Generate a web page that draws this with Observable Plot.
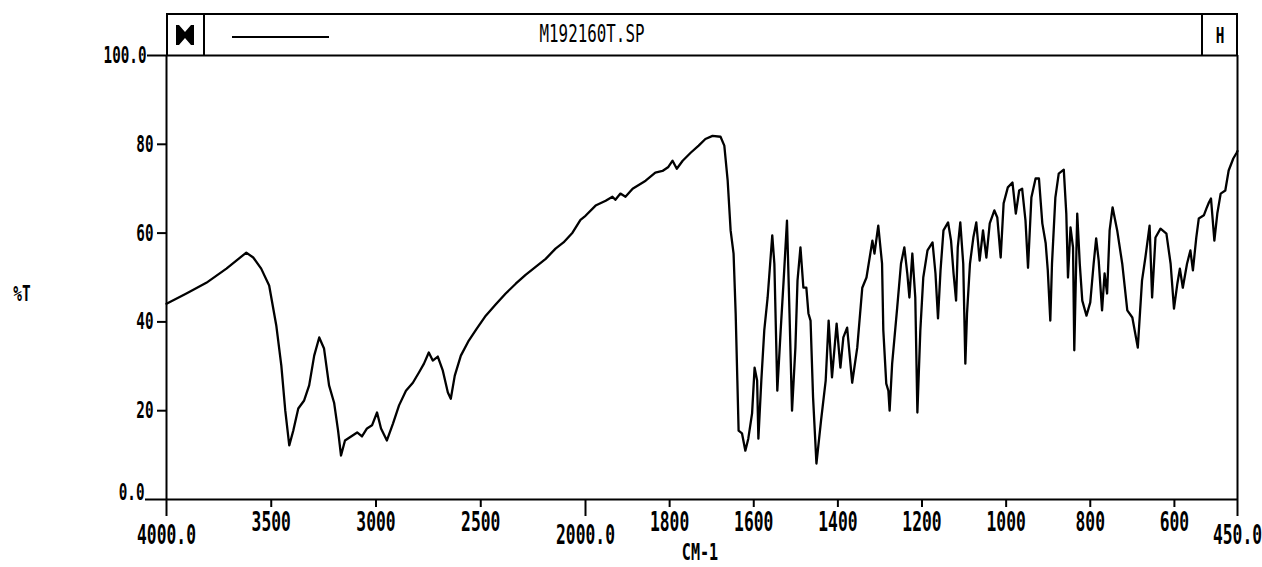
<!DOCTYPE html>
<html>
<head>
<meta charset="utf-8">
<script src="https://cdn.jsdelivr.net/npm/d3@7"></script>
<script src="https://cdn.jsdelivr.net/npm/@observablehq/plot@0.6"></script>
<style>
  body { margin: 0; background: #fff; }
  #fig { position: relative; width: 1262px; height: 567px; font-family: "DejaVu Sans Mono", monospace; color: #000; }
  #fig > svg { position: absolute; left: 0; top: 0; }
  .hdr { position: absolute; left: 166px; top: 13px; width: 1072px; height: 42px; box-sizing: border-box;
         border-top: 2.5px solid #000; border-left: 2px solid #000; border-right: 2px solid #000; }
  .cell-l { position: absolute; left: 0; top: 0; width: 37px; height: 100%; border-right: 2px solid #000; box-sizing: border-box; }
  .cell-l svg { position: absolute; left: 7px; top: 9px; }
  .cell-r { position: absolute; right: 0; top: 0; width: 35px; height: 100%; border-left: 2px solid #000; box-sizing: border-box; }
  .swatch { position: absolute; left: 64px; top: 21px; width: 97px; height: 2px; background: #000; }
  .lbl { position: absolute; white-space: nowrap; font-weight: bold; line-height: 1; transform: translate(-50%, -50%) scale(0.72, 1.1); }
</style>
</head>
<body>
<div id="fig">
  <div class="hdr">
    <div class="cell-l">
      <svg width="20" height="22" viewBox="0 0 20 22"><path d="M1,1 L4,1 L10,8 L16,1 L19,1 L19,21 L16,21 L10,14 L4,21 L1,21 Z" fill="#000"/></svg>
    </div>
    <div class="swatch"></div>
    <div class="cell-r"></div>
  </div>
  <span class="lbl" id="title" style="left:592px; top:34px; font-size:22px; font-weight:normal;"></span>
  <span class="lbl" id="hmark" style="left:1220px; top:35px; font-size:20px;"></span>
  <span class="lbl" id="ylabel" style="left:22px; top:293px; font-size:20px;"></span>
  <span class="lbl" id="xlabel" style="left:700px; top:553px; font-size:21px;"></span>
</div>
<script>
// Infrared spectrum: wavenumber (cm-1) vs. transmittance (%T)
const wavenumber = [
  4000, 3905, 3810, 3714, 3643, 3619, 3586, 3548, 3510, 3476, 3452, 3433, 3414, 3395, 3371, 3343,
  3319, 3295, 3271, 3248, 3224, 3200, 3181, 3167, 3148, 3119, 3090, 3067, 3043, 3019, 2995, 2976,
  2948, 2919, 2890, 2857, 2824, 2795, 2771, 2748, 2729, 2705, 2681, 2657, 2643, 2624, 2595, 2557,
  2519, 2476, 2429, 2381, 2333, 2286, 2238, 2190, 2143, 2105, 2062, 2024, 2000, 1976, 1952, 1936,
  1929, 1917, 1905, 1888, 1857, 1834, 1817, 1803, 1793, 1783, 1769, 1750, 1731, 1715, 1698, 1679,
  1670, 1662, 1655, 1648, 1643, 1639, 1636, 1628, 1620, 1613, 1604, 1598, 1592, 1589, 1582, 1575,
  1567, 1556, 1551, 1544, 1536, 1529, 1521, 1515, 1509, 1501, 1496, 1489, 1482, 1475, 1470, 1465,
  1459, 1451, 1440, 1429, 1422, 1414, 1403, 1394, 1387, 1378, 1366, 1354, 1342, 1332, 1318, 1313,
  1304, 1295, 1292, 1285, 1280, 1277, 1271, 1259, 1250, 1242, 1235, 1230, 1223, 1216, 1211, 1204,
  1197, 1187, 1175, 1168, 1162, 1156, 1149, 1138, 1131, 1125, 1119, 1115, 1109, 1102, 1097, 1093,
  1086, 1078, 1071, 1063, 1055, 1047, 1039, 1028, 1021, 1013, 1006, 996, 985, 977, 969, 962,
  954, 948, 940, 930, 922, 914, 906, 901, 895, 891, 883, 875, 863, 857, 853, 847,
  841, 838, 831, 825, 819, 809, 800, 792, 786, 780, 772, 766, 760, 754, 747, 736,
  724, 712, 700, 687, 677, 669, 659, 653, 645, 633, 619, 609, 601, 593, 587, 580,
  570, 562, 556, 548, 542, 530, 524, 518, 513, 505, 498, 490, 479, 471, 460, 452, 450
];
const transmittance = [
  44.1, 46.4, 48.8, 52.0, 54.7, 55.6, 54.5, 52.0, 48.2, 39.2, 30.2, 20.0, 12.2, 15.5, 20.5, 22.3,
  25.7, 32.4, 36.5, 34.0, 25.7, 21.8, 15.5, 9.9, 13.3, 14.2, 15.1, 14.2, 16.0, 16.7, 19.6, 16.0,
  13.3, 17.1, 21.2, 24.5, 26.3, 28.6, 30.6, 33.1, 31.3, 32.2, 29.0, 24.1, 22.7, 27.9, 32.4, 35.8,
  38.5, 41.4, 43.9, 46.4, 48.6, 50.6, 52.4, 54.2, 56.5, 57.9, 60.1, 63.0, 63.9, 66.2, 67.3, 68.2,
  67.5, 68.9, 68.2, 70.0, 71.8, 73.6, 74.0, 74.9, 76.3, 74.5, 76.3, 78.1, 79.7, 81.2, 81.9, 81.7,
  79.7, 71.8, 60.6, 55.4, 41.9, 26.8, 15.5, 14.9, 11.0, 13.7, 19.4, 29.7, 26.8, 13.7, 26.8, 38.1,
  45.5, 59.5, 53.1, 24.5, 38.1, 49.3, 62.8, 41.9, 20.0, 34.2, 49.3, 56.8, 47.7, 47.7, 41.9, 40.3,
  23.0, 8.1, 17.8, 26.8, 40.3, 27.5, 39.6, 29.7, 36.5, 38.7, 26.3, 34.2, 47.7, 50.0, 58.3, 55.4,
  61.7, 53.1, 38.1, 26.1, 24.5, 20.0, 30.6, 43.2, 53.1, 56.8, 50.9, 45.5, 55.4, 45.5, 19.6, 38.1,
  50.0, 56.1, 57.9, 50.9, 40.8, 51.6, 60.6, 62.4, 58.3, 50.9, 44.8, 56.8, 62.4, 53.1, 30.6, 41.9,
  53.1, 59.0, 62.4, 53.8, 60.6, 54.5, 62.2, 65.1, 63.5, 54.5, 66.7, 70.3, 71.4, 64.4, 69.6, 70.0,
  62.8, 52.2, 68.0, 72.3, 72.3, 62.2, 57.7, 51.6, 40.3, 53.1, 68.0, 73.4, 74.3, 64.4, 50.0, 61.3,
  56.8, 33.6, 64.4, 53.1, 44.8, 41.4, 44.4, 53.1, 58.8, 53.8, 42.6, 50.9, 46.4, 60.6, 65.8, 60.6,
  53.1, 42.6, 41.0, 34.2, 49.3, 54.5, 61.7, 45.5, 59.0, 61.0, 59.9, 53.1, 43.0, 48.6, 52.0, 47.7,
  53.1, 56.1, 51.6, 59.0, 63.3, 64.0, 65.5, 66.9, 67.8, 58.3, 64.4, 68.9, 69.6, 74.1, 76.8, 78.1, 78.5
];
const spectrum = wavenumber.map((w, i) => ({w, t: transmittance[i]}));

// Axis ticks: the wavenumber axis changes scale at 2000 cm-1
const xBreaks = [4000, 2000, 450];
const xMinorTicks = [3500, 3000, 2500, 1800, 1600, 1400, 1200, 1000, 800, 600];
const xMajorTicks = [4000, 2000, 450];
const xMajorLabels = ["4000.0", "2000.0", "450.0"];
const yTicks = [20, 40, 60, 80];
const yTopLabel = "100.0";
const yBottomLabel = "0.0";

const fileName = "M192160T.SP";
const xTitle = "CM-1";
const yTitle = "%T";
const traceMarker = "H";

const majorLabel = new Map(xMajorTicks.map((v, i) => [v, xMajorLabels[i]]));

const chart = Plot.plot({
  width: 1262,
  height: 567,
  marginLeft: 166,
  marginRight: 25,
  marginTop: 55,
  marginBottom: 68,
  style: {fontFamily: '"DejaVu Sans Mono", monospace', background: "transparent", color: "#000", overflow: "visible"},
  x: {type: "linear", domain: xBreaks, range: [166, 585, 1237]},
  y: {domain: [0, 100], range: [499, 55]},
  marks: [
    Plot.axisX(xMinorTicks, {tickSize: 8, tickPadding: 6, strokeWidth: 2, fontSize: 24, fontWeight: "bold", tickFormat: (d) => String(d), label: null}),
    Plot.axisX(xMajorTicks, {tickSize: 17, tickPadding: 10, strokeWidth: 2, fontSize: 24, fontWeight: "bold", tickFormat: (d) => majorLabel.get(d), label: null}),
    Plot.axisY(yTicks, {tickSize: 9, tickPadding: 4, strokeWidth: 2, fontSize: 21, fontWeight: "bold", tickFormat: (d) => String(d), label: null}),
    Plot.axisY([100], {tickSize: 19, tickPadding: 1, strokeWidth: 2, fontSize: 21, fontWeight: "bold", tickFormat: () => yTopLabel, label: null}),
    Plot.axisY([0], {tickSize: 21, strokeWidth: 2, text: null, label: null}),
    Plot.axisY([0], {tickSize: 0, tickPadding: 22, dy: -7, fontSize: 21, fontWeight: "bold", tickFormat: () => yBottomLabel, label: null}),
    Plot.ruleX([4000, 450], {strokeWidth: 2}),
    Plot.ruleY([0, 100], {strokeWidth: 2}),
    Plot.line(spectrum, {x: "w", y: "t", stroke: "#000", strokeWidth: 2.3, strokeLinejoin: "round"})
  ]
});

const fig = document.getElementById("fig");
fig.insertBefore(chart, fig.firstChild);

// Narrow and stretch the monospace glyphs around each label's anchor point
chart.querySelectorAll("text").forEach((t) => {
  const b = t.getBBox();
  const anchor = getComputedStyle(t).textAnchor;
  const ax = anchor === "end" ? b.x + b.width : anchor === "middle" ? b.x + b.width / 2 : b.x;
  const cy = b.y + b.height / 2;
  const prev = t.getAttribute("transform") || "";
  t.setAttribute("transform", `${prev} translate(${ax},${cy}) scale(0.68,1.1) translate(${-ax},${-cy})`);
});

document.getElementById("title").textContent = fileName;
document.getElementById("hmark").textContent = traceMarker;
document.getElementById("ylabel").textContent = yTitle;
document.getElementById("xlabel").textContent = xTitle;
</script>
</body>
</html>
